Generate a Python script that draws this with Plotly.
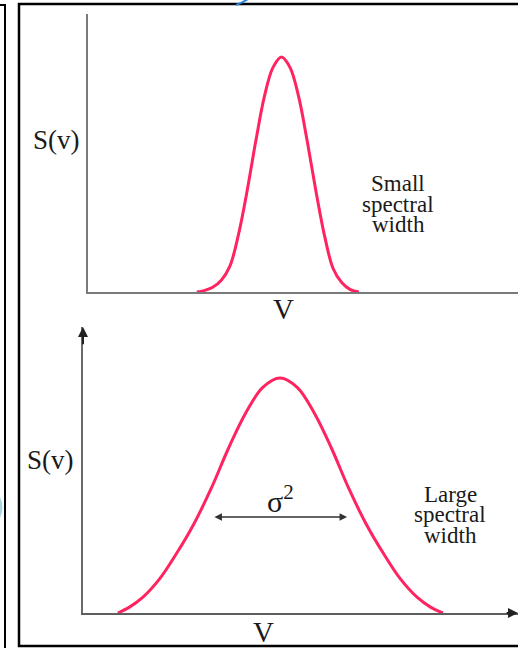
import plotly.graph_objects as go

W, H = 518, 648

# Narrow spectrum (upper panel): frequency offset v and spectral density S(v)
top_v = [-1.97, -1.8, -1.6, -1.4, -1.2, -1.0, -0.8, -0.6, -0.4, -0.2, 0.0,
         0.2, 0.4, 0.6, 0.8, 1.0, 1.2, 1.4, 1.6, 1.8]
top_s = [0.0, 0.006, 0.02, 0.05, 0.11, 0.245, 0.43, 0.64, 0.83, 0.955, 1.0,
         0.955, 0.83, 0.64, 0.43, 0.24, 0.10, 0.04, 0.01, 0.0]

# Broad spectrum (lower panel)
bot_v = [-3.77, -3.5, -3.2, -2.8, -2.4, -2.0, -1.6, -1.2, -0.8, -0.4, 0.0,
         0.4, 0.8, 1.2, 1.6, 2.0, 2.4, 2.8, 3.2, 3.5, 3.79]
bot_s = [0.0, 0.025, 0.065, 0.145, 0.255, 0.38, 0.53, 0.70, 0.85, 0.96, 1.0,
         0.96, 0.85, 0.70, 0.53, 0.38, 0.255, 0.145, 0.065, 0.025, 0.0]

# Width marker on the broad spectrum
sigma_half = 1.56
sigma_level = 0.409

y_label = "S(v)"
x_label = "V"
small_text = ["Small", "spectral", "width"]
large_text = ["Large", "spectral", "width"]

CURVE = "#ff2360"
AXIS = "#7a7a7a"
INK = "#1a1a1a"
SERIF = "Liberation Serif, Times New Roman, serif"


def px(x):
    return x / W


def py(y):
    return 1 - y / H


fig = go.Figure()
fig.add_trace(go.Scatter(x=top_v, y=top_s, mode="lines", xaxis="x", yaxis="y",
                         line=dict(color=CURVE, width=3, shape="spline", smoothing=1),
                         hoverinfo="skip"))
fig.add_trace(go.Scatter(x=bot_v, y=bot_s, mode="lines", xaxis="x2", yaxis="y2",
                         line=dict(color=CURVE, width=3, shape="spline", smoothing=1),
                         hoverinfo="skip"))

ax_common = dict(showgrid=False, zeroline=False, showticklabels=False, ticks="",
                 showline=True, linecolor=AXIS, linewidth=2, fixedrange=True)

top_xr = [-4.5, 5.5]
top_yr = [0, 1.183]
bot_xr = [-4.581, 5.535]
bot_yr = [0, 1.217]

fig.update_layout(
    width=W, height=H,
    margin=dict(l=0, r=0, t=0, b=0),
    paper_bgcolor="white", plot_bgcolor="white",
    showlegend=False,
    xaxis=dict(domain=[px(88), 1], range=top_xr, anchor="y", **ax_common),
    yaxis=dict(domain=[py(292), py(14)], range=top_yr, anchor="x", **ax_common),
    xaxis2=dict(domain=[px(83), 1], range=bot_xr, anchor="y2",
                **{**ax_common, "linecolor": "#5e5e5e"}),
    yaxis2=dict(domain=[py(613), py(327)], range=bot_yr, anchor="x2",
                **{**ax_common, "linecolor": "#6a6a6a"}),
)

ann = []
# arrowheads on the lower axes
ann.append(dict(x=bot_xr[1], y=0, ax=bot_xr[1] - 0.3, ay=0, xref="x2", yref="y2",
                axref="x2", ayref="y2", showarrow=True, arrowhead=2, arrowsize=1,
                arrowwidth=2, arrowcolor="#222", text=""))
ann.append(dict(x=bot_xr[0], y=bot_yr[1], ax=bot_xr[0], ay=bot_yr[1] - 0.08, xref="x2",
                yref="y2", axref="x2", ayref="y2", showarrow=True, arrowhead=2,
                arrowsize=1, arrowwidth=2, arrowcolor="#222", text=""))
# sigma^2 double arrow
ann.append(dict(x=sigma_half, y=sigma_level, ax=-sigma_half, ay=sigma_level, xref="x2",
                yref="y2", axref="x2", ayref="y2", showarrow=True, arrowhead=2,
                startarrowhead=2, arrowside="end+start", arrowsize=1, arrowwidth=1.5,
                arrowcolor="#333", text=""))
ann.append(dict(x=0.02, y=sigma_level + 0.078, xref="x2", yref="y2", showarrow=False,
                text="σ<sup>2</sup>", font=dict(family=SERIF, size=30, color=INK),
                xanchor="center", yanchor="middle"))


def label(text, x, y, size):
    ann.append(dict(x=px(x), y=py(y), xref="paper", yref="paper", showarrow=False,
                    text=text, font=dict(family=SERIF, size=size, color=INK),
                    xanchor="center", yanchor="middle"))


label(y_label, 56, 140, 27)
label(y_label, 50, 460, 27)
label(x_label, 283, 309, 29)
label(x_label, 263, 632, 29)
for i, t in enumerate(small_text):
    label(t, 398, 184 + 20 * i, 23)
for i, t in enumerate(large_text):
    label(t, 450, 494 + 20.5 * i, 23)

fig.update_layout(annotations=ann)

# page frames and decorations
shapes = [
    dict(type="line", xref="paper", yref="paper", x0=px(5), x1=px(5), y0=py(5), y1=py(648),
         line=dict(color="black", width=2)),
    dict(type="line", xref="paper", yref="paper", x0=0, x1=px(6), y0=py(5), y1=py(5),
         line=dict(color="black", width=2)),
    dict(type="rect", xref="paper", yref="paper", x0=px(19), x1=px(530), y0=py(646),
         y1=py(4), line=dict(color="black", width=2.5)),
    dict(type="path", xref="paper", yref="paper",
         path=f"M {px(236)} {py(5)} Q {px(242)} {py(3)} {px(248)} {py(-1)}",
         line=dict(color="#2a7fd4", width=2)),
    dict(type="path", xref="paper", yref="paper",
         path=f"M {px(0)} {py(497)} Q {px(5)} {py(507)} {px(0)} {py(518)} Z",
         fillcolor="#a9d6de", line=dict(width=0)),
]
fig.update_layout(shapes=shapes)

fig.write_html("out.html")
